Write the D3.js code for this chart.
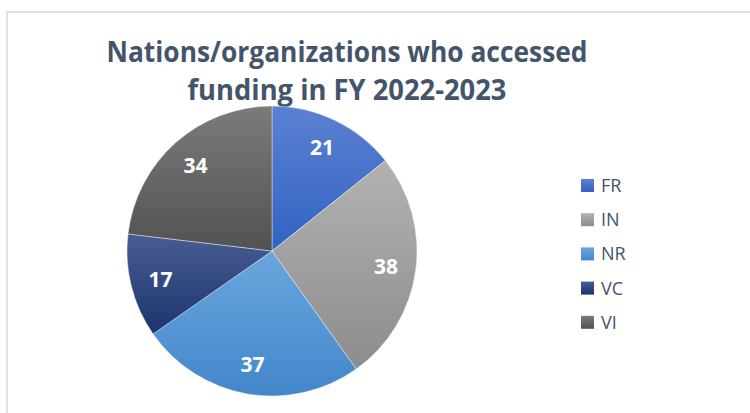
<!DOCTYPE html>
<html>
<head>
<meta charset="utf-8">
<script src="https://cdn.jsdelivr.net/npm/d3@7"></script>
<style>
  body { margin: 0; background: #fff; }
  svg { display: block; font-family: "Open Sans", "Noto Sans", sans-serif; }
</style>
</head>
<body>
<svg id="chart" width="750" height="413"></svg>
<script>
var categories = ["FR", "IN", "NR", "VC", "VI"];
var values = [21, 38, 37, 17, 34];
var titleLines = ["Nations/organizations who accessed", "funding in FY 2022-2023"];
// top / bottom colours of each slice gradient
var colorsTop = ["#5b81d1", "#b2b2b2", "#6aa6de", "#485d92", "#7b7b7b"];
var colorsBottom = ["#3163c4", "#8c8c8c", "#4287cb", "#1c346e", "#525252"];

var svg = d3.select("#chart"),
  width = +svg.attr("width"),
  height = +svg.attr("height");

// chart frame
svg.append("rect")
  .attr("x", 7).attr("y", 12)
  .attr("width", 760).attr("height", 420)
  .attr("fill", "#fff")
  .attr("stroke", "#dde2e8")
  .attr("stroke-width", 2);

var defs = svg.append("defs");
categories.forEach(function(c, i) {
  var g = defs.append("linearGradient")
    .attr("id", "grad-" + c)
    .attr("x1", 0).attr("y1", 0).attr("x2", 0).attr("y2", 1);
  g.append("stop").attr("offset", "0%").attr("stop-color", colorsTop[i]);
  g.append("stop").attr("offset", "100%").attr("stop-color", colorsBottom[i]);
});

// title
var titleWidths = [481, 319];
svg.append("g").selectAll("text")
  .data(titleLines)
  .enter().append("text")
    .attr("x", 347)
    .attr("y", function(d, i) { return 62 + i * 38; })
    .attr("text-anchor", "middle")
    .attr("textLength", function(d, i) { return titleWidths[i]; })
    .attr("lengthAdjust", "spacingAndGlyphs")
    .style("font-size", "28px")
    .style("font-weight", "bold")
    .style("fill", "#44546a")
    .text(function(d) { return d; });

// pie
var cx = 272, cy = 251, radius = 145;
var data = categories.map(function(c, i) { return {name: c, value: values[i]}; });

var pie = d3.pie()
  .sort(null)
  .value(function(d) { return d.value; });

var arc = d3.arc().innerRadius(0).outerRadius(radius);
var labelArc = d3.arc().innerRadius(115).outerRadius(115);

var g = svg.append("g").attr("transform", "translate(" + cx + "," + cy + ")");

var slices = g.selectAll(".slice")
  .data(pie(data))
  .enter().append("g")
    .attr("class", "slice");

slices.append("path")
  .attr("d", arc)
  .attr("fill", function(d) { return "url(#grad-" + d.data.name + ")"; })
  .attr("stroke", "rgba(255,255,255,0.5)")
  .attr("stroke-width", 0.8);

slices.append("text")
  .attr("transform", function(d) { return "translate(" + labelArc.centroid(d) + ")"; })
  .attr("text-anchor", "middle")
  .attr("dy", "0.36em")
  .style("font-size", "21px")
  .style("font-weight", "bold")
  .style("fill", "#fff")
  .text(function(d) { return d.data.value; });

// legend
var legend = svg.append("g").attr("transform", "translate(581,179)");
var item = legend.selectAll(".item")
  .data(categories)
  .enter().append("g")
    .attr("class", "item")
    .attr("transform", function(d, i) { return "translate(0," + (i * 34.2) + ")"; });

item.append("rect")
  .attr("width", 13).attr("height", 13)
  .attr("fill", function(d) { return "url(#grad-" + d + ")"; });

item.append("text")
  .attr("x", 20)
  .attr("y", 6.5)
  .attr("dy", "0.36em")
  .style("font-size", "18px")
  .style("fill", "#44546a")
  .text(function(d) { return d; });
</script>
</body>
</html>
